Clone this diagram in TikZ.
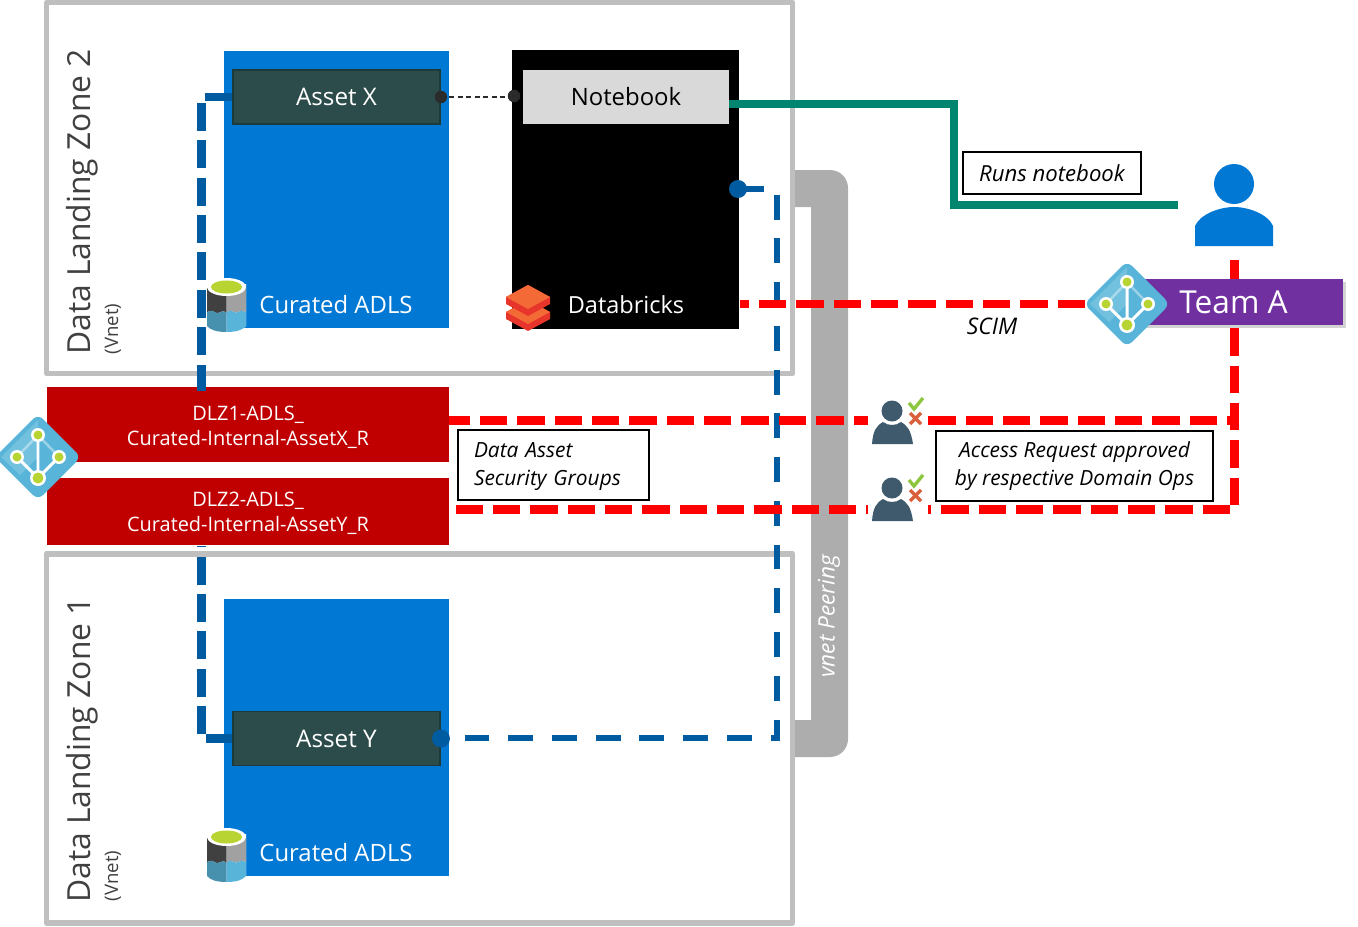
\documentclass[tikz,border=0pt]{standalone}
\usepackage{fontspec}
\setmainfont{Open Sans}
\usetikzlibrary{shadows}
\definecolor{framegrey}{HTML}{BFBFBF}
\definecolor{peergrey}{HTML}{ADADAD}
\definecolor{adlsblue}{HTML}{0078D4}
\definecolor{linkblue}{HTML}{005BA1}
\definecolor{assetgreen}{HTML}{2B4C4A}
\definecolor{assetedge}{HTML}{1C3A3A}
\definecolor{groupred}{HTML}{C00000}
\definecolor{runteal}{HTML}{00856F}
\definecolor{teampurple}{HTML}{7030A0}
\definecolor{iconblue}{HTML}{59B4D9}
\definecolor{iconlight}{HTML}{72C1DF}
\definecolor{icongreen}{HTML}{B8D432}
\definecolor{slate}{HTML}{3E5A6C}
\definecolor{okgreen}{HTML}{8CC63F}
\definecolor{nogo}{HTML}{D9603B}
\definecolor{brickface}{HTML}{F46A37}
\definecolor{brickside}{HTML}{E8352C}
\definecolor{portblack}{HTML}{2B2B2B}
\newcommand{\fsize}[2]{\fontsize{#1}{#2}\selectfont}
\begin{document}
\begin{tikzpicture}
[x=0.02cm,y=-0.02cm,
 zoneframe/.style={draw=framegrey,line width=3.4pt,line join=round},
 zonetitle/.style={rotate=90,text=black!75,inner sep=0pt,font=\fsize{18.1}{22}},
 zonesub/.style={rotate=90,text=black!75,inner sep=0pt,font=\fsize{10.6}{13}},
 adlsbox/.style={fill=adlsblue,minimum width=4.5cm,minimum height=5.54cm,inner sep=0pt},
 assetbox/.style={draw=assetedge,fill=assetgreen,line width=1.1pt,text=white,
   minimum width=4.14cm,minimum height=1.08cm,inner sep=0pt,font=\fsize{13.8}{16}},
 whitelabel/.style={text=white,inner sep=0pt,font=\fsize{13.6}{16}},
 groupbox/.style={fill=groupred,text=white,minimum width=8.04cm,inner sep=0pt,align=center,
   font=\fsize{11.35}{14.2}},
 notebox/.style={draw=black,line width=1.1pt,fill=white,inner sep=0pt,
   font=\fsize{11.9}{15.9}\itshape},
 leftlink/.style={draw=linkblue,line width=5.1pt,dash pattern=on 15.88pt off 5.39pt},
 peerlink/.style={draw=linkblue,line width=3.4pt,dash pattern=on 14.17pt off 10.72pt},
 redlink/.style={draw=red,line width=5.1pt,dash pattern=on 15.59pt off 5.67pt},
 portdot/.style={circle,fill=#1,minimum size=0.36cm,inner sep=0pt},
 adlsicon/.pic={
   \fill[white] (-19.5,-21) -- (19.5,-21) -- (19.5,21) .. controls (16,25) and (10,27) .. (0,27)
     .. controls (-10,27) and (-16,25) .. (-19.5,21) -- cycle;
   \fill[black!75] (-19.5,-17) .. controls (-10,-10) and (-3,-10) .. (0,-10) -- (0,8)
     .. controls (-5,3) and (-8,11) .. (-12,7) .. controls (-15,4) and (-17,7) .. (-19.5,7) -- cycle;
   \fill[black!37] (19.5,-17) .. controls (10,-10) and (3,-10) .. (0,-10) -- (0,8)
     .. controls (4,2) and (8,10) .. (12,7) .. controls (15,4) and (17,7) .. (19.5,7) -- cycle;
   \fill[iconblue!80!black] (-19.5,7) .. controls (-17,7) and (-15,4) .. (-12,7)
     .. controls (-8,11) and (-5,3) .. (0,8) -- (0,27) .. controls (-10,27) and (-16,25) .. (-19.5,21) -- cycle;
   \fill[iconblue] (19.5,7) .. controls (17,7) and (15,4) .. (12,7)
     .. controls (8,10) and (4,2) .. (0,8) -- (0,27) .. controls (10,27) and (16,25) .. (19.5,21) -- cycle;
   \fill[white] (0,-18) ellipse[x radius=19.5,y radius=9];
   \fill[icongreen] (0,-18) ellipse[x radius=15.5,y radius=6.5];
 },
 groupicon/.pic={
   \fill[iconblue,rounded corners=0.14cm] (0,-43) -- (43,0) -- (0,43) -- (-43,0) -- cycle;
   \fill[iconlight] (-37,0) -- (0,-37) -- (0,0) -- (-18,18) -- cycle;
   \draw[white,opacity=0.4,line width=1.4pt] (-21,0) -- (0,-22) -- (21,0);
   \draw[white,line width=1.7pt] (0,-22) -- (0,21) (-21,0) -- (0,21) -- (21,0);
   \foreach \nx/\ny/\nr in {0/-22/4.5, -21/0/4.5, 21/0/4.5, 0/21/5.5} {
     \fill[white] (\nx,\ny) circle[radius=\nr+2.5];
     \fill[icongreen] (\nx,\ny) circle[radius=\nr];
   }
 },
 reviewer/.pic={
   \fill[white] (-24,-30) rectangle (36,36);
   \fill[slate] (0,0) circle[radius=10.5];
   \fill[slate] (-20,33) .. controls (-19,20) and (-16,15) .. (-9,11)
     .. controls (-4,15) and (4,15) .. (9,11) .. controls (16,15) and (19,20) .. (21,33) -- cycle;
   \draw[okgreen,line width=1.9pt] (17,-8) -- (22,-2) -- (31,-13);
   \draw[nogo,line width=1.9pt] (18,2) -- (29,13) (18,13) -- (29,2);
 }]
\useasboundingbox (0,0) rectangle (1358,926);
%% landing zones
\node[zonetitle] (zonetwotitle) at (82,202) {Data Landing Zone 2};
\node[zonesub] (zonetwosub) at (113,329) {(Vnet)};
\node[zonetitle] (zoneonetitle) at (82,750) {Data Landing Zone 1};
\node[zonesub] (zoneonesub) at (113,876) {(Vnet)};
\draw[zoneframe] (46.5,2.5) rectangle (792.5,373.5);
\draw[zoneframe] (46.5,554) rectangle (792.5,922.5);
%% vnet peering
\fill[peergrey] (795,170) -- (830,170) arc[start angle=-90,end angle=0,radius=18] -- (848,739)
  arc[start angle=0,end angle=90,radius=18] -- (795,757) -- (795,720) -- (811,720) -- (811,207)
  -- (795,207) -- cycle;
\node[rotate=90,text=white,inner sep=0pt,font=\fsize{12.9}{15}\itshape] (peering) at (829,616) {vnet Peering};
%% storage and databricks
\node[adlsbox] (adlstwo) at (336.5,189.5) {};
\node[adlsbox] (adlsone) at (336.5,737.5) {};
\node[whitelabel] (adlstwolabel) at (336,305) {Curated ADLS};
\node[whitelabel] (adlsonelabel) at (336,853) {Curated ADLS};
\node[fill=black,minimum width=4.54cm,minimum height=5.58cm,inner sep=0pt] (databricks) at (625.5,189.5) {};
\node[fill=black!15,minimum width=4.12cm,minimum height=1.08cm,inner sep=0pt,font=\fsize{13.6}{16}] (notebook) at (626,97) {Notebook};
\node[whitelabel,font=\fsize{13.4}{16}] (databrickslabel) at (626,305) {Databricks};
\node[assetbox] (assetx) at (336.5,97) {Asset X};
\node[assetbox] (assety) at (336.5,738.5) {Asset Y};
%% security groups
\node[groupbox,minimum height=1.5cm] (groupone) at (248,424.5) {\rule{0pt}{11.5pt}DLZ1-ADLS\_\\Curated-Internal-AssetX\_R};
\node[groupbox,minimum height=1.34cm] (grouptwo) at (248,511.5) {\rule{0pt}{10.4pt}DLZ2-ADLS\_\\Curated-Internal-AssetY\_R};
%% connector ends
\coordinate (leftstub) at (205,97);
\coordinate (leftxtop) at (201.5,103);
\coordinate (leftxlow) at (201.5,391);
\coordinate (leftytop) at (201.5,546);
\coordinate (leftylow) at (201.5,734);
\coordinate (leftycorner) at (206,738.5);
\coordinate (dbport) at (739,189);
\coordinate (peertop) at (777,189);
\coordinate (peerturn) at (777,738);
\coordinate (assetyend) at (462,738);
\coordinate (notebookout) at (729,104);
\coordinate (tealturn) at (954,205);
\coordinate (tealend) at (1178,205);
\coordinate (scimstart) at (740,304);
\coordinate (scimend) at (1086,304);
\coordinate (accessone) at (1234,420.5);
\coordinate (oneout) at (449,420.5);
\coordinate (twoout) at (452,509.5);
\coordinate (twocorner) at (1230,509.5);
\coordinate (teamfoot) at (1234.5,505);
\coordinate (teamtop) at (1234.5,260);
%% links
\draw[leftlink] (leftxtop) -- (leftxlow);
\draw[linkblue,line width=5.1pt] (leftstub) -- (assetx.west);
\draw[leftlink] (leftylow) -- (leftytop);
\draw[linkblue,line width=5.1pt] (leftycorner) -- (assety.west);
\draw[peerlink] (dbport) -- (peertop) -- (peerturn) -- (assetyend);
\node[portdot=linkblue] (dbdot) at (738,189) {};
\node[portdot=linkblue] (assetydot) at (assety.east) {};
\draw[portblack,line width=0.85pt,dash pattern=on 2.9pt off 1.9pt] (assetx.east) -- (notebook.west -| databricks.west);
\node[portdot=portblack,minimum size=0.25cm] (assetxdot) at (assetx.east) {};
\node[portdot=portblack,minimum size=0.25cm] (notebookdot) at (514,96) {};
\draw[runteal,line width=4.9pt] (notebookout) -| (tealturn) -- (tealend);
\draw[redlink,dash phase=10.49pt] (scimstart) -- (scimend);
\draw[redlink,dash phase=11.62pt] (accessone) -- (oneout);
\draw[redlink] (twocorner) -- (twoout);
\draw[redlink] (teamfoot) -- (teamtop);
%% team
\fill[adlsblue] (1234,184) circle[radius=20];
\fill[adlsblue] (1195,246) -- (1195,226) .. controls (1200,214) and (1220,207) .. (1234,207)
  .. controls (1248,207) and (1268,214) .. (1273,226) -- (1273,246) -- cycle;
\node[fill=teampurple,text=white,minimum width=4.06cm,minimum height=0.92cm,inner sep=0pt,
  drop shadow={shadow xshift=1.5pt,shadow yshift=-1.5pt,opacity=0.35},font=\fsize{18}{22}] (teama) at (1241.5,302) {\hspace*{-0.32cm}\raisebox{-2pt}{Team A}};
\pic at (1127,304) {groupicon};
\pic at (38,457) {groupicon};
%% databricks logo
\foreach \ly in {15,0} {
  \fill[brickside] (506,297+\ly) -- (528,285+\ly) -- (550,297+\ly) -- (550,304+\ly) -- (528,316+\ly) -- (506,304+\ly) -- cycle;
  \fill[brickface] (506,297+\ly) -- (528,285+\ly) -- (550,297+\ly) -- (528,309+\ly) -- cycle;
}
\pic at (226.5,305) {adlsicon};
\pic at (226.5,855) {adlsicon};
\pic at (892,411) {reviewer};
\pic at (892,488) {reviewer};
%% notes
\node[notebox,minimum width=3.56cm,minimum height=0.84cm,font=\fsize{12.6}{15}\itshape] (runsnote) at (1052,173) {Runs notebook};
\node[notebox,minimum width=3.82cm,minimum height=1.4cm,text width=3.18cm,align=left] (datanote) at (553.5,465) {\rule{0pt}{10.6pt}Data Asset\\Security Groups};
\node[notebox,minimum width=5.54cm,minimum height=1.4cm,align=center] (accessnote) at (1074.5,466) {Access Request approved\\by respective Domain Ops};
\node[inner sep=0pt,font=\fsize{13}{15}\itshape] (scimlabel) at (992,326) {SCIM};
\end{tikzpicture}
\end{document}
